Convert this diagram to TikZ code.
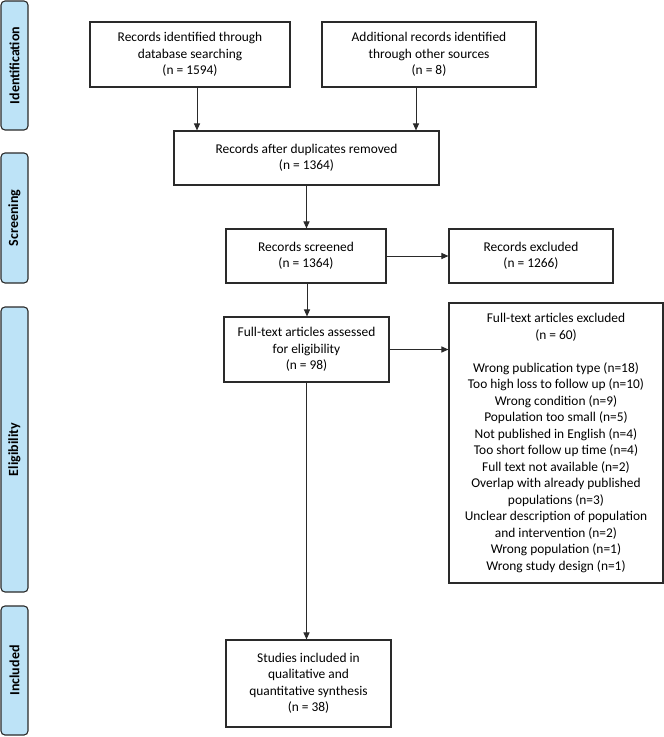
\documentclass[tikz,border=0pt]{standalone}
\usepackage{fontspec}
\setmainfont{Carlito}
\usetikzlibrary{arrows.meta,calc}
\definecolor{barblue}{HTML}{BDE3F7}
\definecolor{edge}{HTML}{2A2A2A}
\tikzset{
  box/.style={draw=edge, line width=1.1pt, align=center, inner sep=2pt,
    font=\fontsize{13.4}{16.5}\selectfont},
  bar/.style={draw=edge, fill=barblue, line width=1.1pt, rounded corners=4pt},
  barlabel/.style={rotate=90, font=\fontsize{14}{16}\selectfont\bfseries},
  arr/.style={draw=edge, line width=1pt, -{Triangle[length=7pt,width=6pt]}},
}
\begin{document}
\begin{tikzpicture}[x=1pt,y=-1pt]
\useasboundingbox (0,0) rectangle (664,737);
% phase bars
\draw[bar] (1,1) rectangle (28,130);
\node[barlabel] (lid) at (14.5,65.5) {Identification};
\draw[bar] (1,153) rectangle (28,283);
\node[barlabel] (lsc) at (14.5,218) {Screening};
\draw[bar] (1,307) rectangle (28,592);
\node[barlabel] (lel) at (14.5,449.5) {Eligibility};
\draw[bar] (1,606) rectangle (28,735);
\node[barlabel] (lin) at (14.5,670.5) {Included};
% boxes
\node[box, minimum width=200pt, minimum height=65pt] (b1) at (190,54.5)
  {Records identified through\\database searching\\(n = 1594)};
\node[box, minimum width=214pt, minimum height=65pt] (b2) at (429,54.5)
  {Additional records identified\\through other sources\\(n = 8)};
\node[box, minimum width=265pt, minimum height=54pt] (b3) at (306.5,158)
  {Records after duplicates removed\\(n = 1364)};
\node[box, minimum width=160pt, minimum height=54pt] (scr) at (306,256)
  {Records screened\\(n = 1364)};
\node[box, minimum width=164pt, minimum height=54pt] (exc) at (531,256)
  {Records excluded\\(n = 1266)};
\node[box, minimum width=165pt, minimum height=65pt] (ft) at (306.5,349.5)
  {Full-text articles assessed\\for eligibility\\(n = 98)};
\node[box, minimum width=214pt, minimum height=280pt] (fte) at (556,443)
  {Full-text articles excluded\\(n = 60)\\[16.5pt]
   Wrong publication type (n=18)\\
   Too high loss to follow up (n=10)\\
   Wrong condition (n=9)\\
   Population too small (n=5)\\
   Not published in English (n=4)\\
   Too short follow up time (n=4)\\
   Full text not available (n=2)\\
   Overlap with already published\\
   populations (n=3)\\
   Unclear description of population\\
   and intervention (n=2)\\
   Wrong population (n=1)\\
   Wrong study design (n=1)};
\node[box, minimum width=165pt, minimum height=87pt] (st) at (308.5,683.5)
  {Studies included in\\qualitative and\\quantitative synthesis\\(n = 38)};
% connectors
\draw[arr] ([xshift=7pt]b1.south) -- ([xshift=7pt]b1.south |- b3.north);
\draw[arr] ([xshift=-13pt]b2.south) -- ([xshift=-13pt]b2.south |- b3.north);
\draw[arr] (b3.south) -- (b3.south |- scr.north);
\draw[arr] (scr.east) -- (exc.west);
\draw[arr] ([xshift=1pt]scr.south) -- ([xshift=1pt]scr.south |- ft.north);
\draw[arr] (ft.east) -- (ft.east -| fte.west);
\draw[arr] (ft.south) -- (ft.south |- st.north);
\end{tikzpicture}
\end{document}
